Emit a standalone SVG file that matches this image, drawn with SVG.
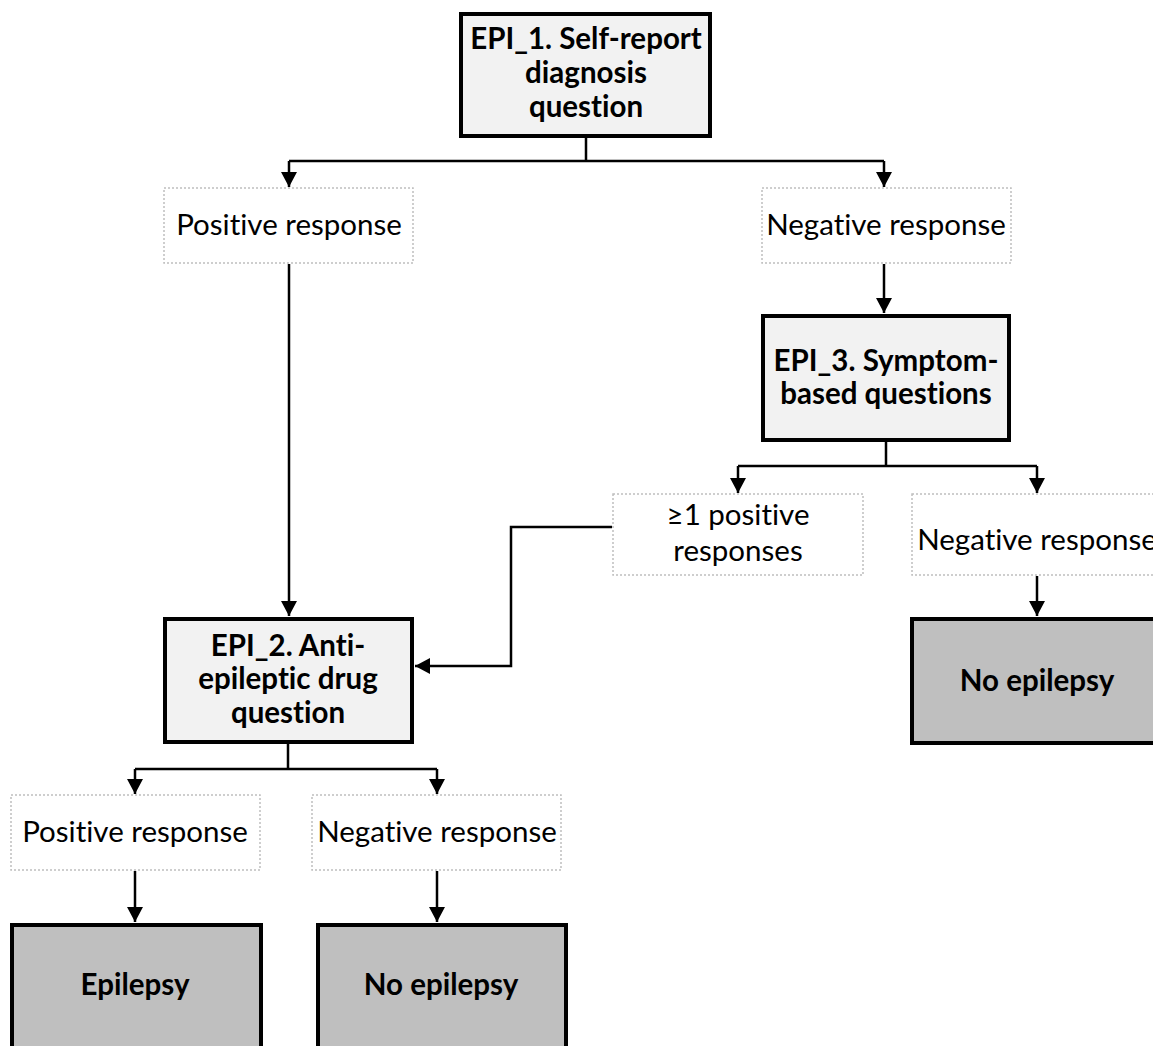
<svg xmlns="http://www.w3.org/2000/svg" width="1153" height="1046" viewBox="0 0 1153 1046">
<defs>
<marker id="arr" markerUnits="userSpaceOnUse" markerWidth="16" markerHeight="16" viewBox="0 0 16 16" refX="15" refY="8" orient="auto">
<path d="M0,0 L15,8 L0,16 Z" fill="#000"/>
</marker>
</defs>
<style>
.q{fill:#f2f2f2;stroke:#000;stroke-width:4}
.o{fill:#bfbfbf;stroke:#000;stroke-width:4}
.r{fill:#fff;stroke:#bfbfbf;stroke-width:1.5;stroke-dasharray:2 2}
.c{fill:none;stroke:#000;stroke-width:2.5}
.b{font-family:Lato,"Liberation Sans",sans-serif;font-weight:bold;font-size:29.5px;text-anchor:middle;fill:#000;font-variant-ligatures:none}
.t{font-family:Lato,"Liberation Sans",sans-serif;font-size:29.5px;text-anchor:middle;fill:#000;font-variant-ligatures:none}
</style>
<rect width="1153" height="1046" fill="#fff"/>
<g id="connectors">
<path class="c" d="M586,137 V161 M289,161 H884"/>
<path class="c" d="M289,161 V187" marker-end="url(#arr)"/>
<path class="c" d="M884,161 V187" marker-end="url(#arr)"/>
<path class="c" d="M289,264 V616" marker-end="url(#arr)"/>
<path class="c" d="M884,264 V313" marker-end="url(#arr)"/>
<path class="c" d="M886,442 V466 M738,466 H1037"/>
<path class="c" d="M738,466 V493" marker-end="url(#arr)"/>
<path class="c" d="M1037,466 V493" marker-end="url(#arr)"/>
<path class="c" d="M612,527 H511 V666 H415" marker-end="url(#arr)"/>
<path class="c" d="M1037,576 V616" marker-end="url(#arr)"/>
<path class="c" d="M288,744 V769 M135,769 H437"/>
<path class="c" d="M135,769 V794" marker-end="url(#arr)"/>
<path class="c" d="M437,769 V794" marker-end="url(#arr)"/>
<path class="c" d="M135,871 V922" marker-end="url(#arr)"/>
<path class="c" d="M437,871 V922" marker-end="url(#arr)"/>
</g>
<g id="epi1">
<rect class="q" x="461" y="14" width="249" height="122"/>
<text class="b" x="586" y="49">EPI_1. Self-report</text>
<text class="b" x="586" y="83">diagnosis</text>
<text class="b" x="586" y="117">question</text>
</g>
<g id="pos1">
<rect class="r" x="164" y="188" width="249" height="75"/>
<text class="t" x="289" y="235">Positive response</text>
</g>
<g id="neg1">
<rect class="r" x="762" y="188" width="249" height="75"/>
<text class="t" x="886" y="235">Negative response</text>
</g>
<g id="epi3">
<rect class="q" x="763" y="316" width="246" height="124"/>
<text class="b" x="886" y="371">EPI_3. Symptom-</text>
<text class="b" x="886" y="404">based questions</text>
</g>
<g id="pos3">
<rect class="r" x="613" y="494" width="250" height="81"/>
<text class="t" x="738" y="525">≥1 positive</text>
<text class="t" x="738" y="561">responses</text>
</g>
<g id="neg3">
<rect class="r" x="912" y="494" width="250" height="81"/>
<text class="t" x="1037" y="550">Negative response</text>
</g>
<g id="noepi3">
<rect class="o" x="912" y="619" width="250" height="124"/>
<text class="b" x="1037" y="691">No epilepsy</text>
</g>
<g id="epi2">
<rect class="q" x="165" y="619" width="247" height="123"/>
<text class="b" x="288" y="656">EPI_2. Anti-</text>
<text class="b" x="288" y="689">epileptic drug</text>
<text class="b" x="288" y="723">question</text>
</g>
<g id="pos2">
<rect class="r" x="11" y="795" width="249" height="75"/>
<text class="t" x="135" y="842">Positive response</text>
</g>
<g id="neg2">
<rect class="r" x="312" y="795" width="249" height="75"/>
<text class="t" x="437" y="842">Negative response</text>
</g>
<g id="epilepsy">
<rect class="o" x="12" y="925" width="249" height="130"/>
<text class="b" x="135" y="995">Epilepsy</text>
</g>
<g id="noepi2">
<rect class="o" x="318" y="925" width="248" height="130"/>
<text class="b" x="441" y="995">No epilepsy</text>
</g>
</svg>
